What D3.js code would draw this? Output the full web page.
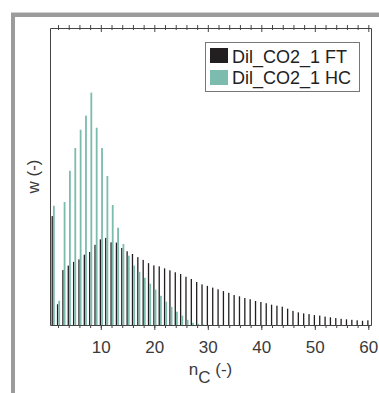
<!DOCTYPE html>
<html>
<head>
<meta charset="utf-8">
<script src="https://cdn.jsdelivr.net/npm/d3@7"></script>
<style>
  body { margin: 0; background: #fff; }
  svg { display: block; font-family: "Liberation Sans", Arial, sans-serif; }
  .axis path, .axis line { stroke: #444; }
  .axis text { fill: #3a3a3a; font-size: 17px; }
</style>
</head>
<body>
<svg width="379" height="393"></svg>
<script>
// carbon numbers
const nC = d3.range(1, 61);

// weight fractions, FT product
const ftValues = [
  0.0440, 0.0084, 0.0222, 0.0240, 0.0255, 0.0265, 0.0284, 0.0295, 0.0324, 0.0346,
  0.0352, 0.0334, 0.0333, 0.0311, 0.0298, 0.0287, 0.0274, 0.0263, 0.0250, 0.0241,
  0.0237, 0.0229, 0.0221, 0.0213, 0.0206, 0.0195, 0.0186, 0.0174, 0.0164, 0.0158,
  0.0151, 0.0144, 0.0137, 0.0130, 0.0121, 0.0116, 0.0109, 0.0104, 0.0097, 0.0093,
  0.0088, 0.0082, 0.0078, 0.0074, 0.0066, 0.0057, 0.0051, 0.0047, 0.0044, 0.0040,
  0.0038, 0.0034, 0.0031, 0.0028, 0.0025, 0.0023, 0.0021, 0.0019, 0.0017, 0.0019
];

// weight fractions, HC product
const hcValues = [
  0.0482, 0.0098, 0.0497, 0.0623, 0.0715, 0.0789, 0.0846, 0.0939, 0.0797, 0.0715,
  0.0602, 0.0485, 0.0393, 0.0327, 0.0280, 0.0240, 0.0215, 0.0191, 0.0167, 0.0143,
  0.0118, 0.0094, 0.0073, 0.0054, 0.0038, 0.0021, 0.0009, 0.0005, 0.0002, 0,
  0, 0, 0, 0, 0, 0, 0, 0, 0, 0,
  0, 0, 0, 0, 0, 0, 0, 0, 0, 0,
  0, 0, 0, 0, 0, 0, 0, 0, 0, 0
];

const seriesNames = ['Dil_CO2_1 FT', 'Dil_CO2_1 HC'];
const seriesColors = ['#231f20', '#7bbcae'];
const majorTicks = [10, 20, 30, 40, 50, 60];
const minorTicks = d3.range(2, 61, 2);

const svg = d3.select('svg');
const margin = { top: 28, right: 8, bottom: 68, left: 50 };
const width = 379 - margin.left - margin.right;
const height = 393 - margin.top - margin.bottom;

// grey frame of the figure window
svg.append('rect').attr('x', 11).attr('y', 12).attr('width', 379).attr('height', 1)
  .attr('fill', '#d0d0d0');
svg.append('rect').attr('x', 11).attr('y', 13).attr('width', 379).attr('height', 4)
  .attr('fill', '#9b9b9b');
svg.append('rect').attr('x', 11).attr('y', 13).attr('width', 4).attr('height', 393)
  .attr('fill', '#9b9b9b');

const x = d3.scaleLinear().domain([0.5, 60.5]).range([margin.left, margin.left + width]);
const y = d3.scaleLinear().domain([0, 0.12]).range([margin.top + height, margin.top]);

// bars, FT left of the carbon number, HC right of it
const bars = svg.append('g');
bars.selectAll('.ft')
  .data(nC)
  .enter().append('rect')
  .attr('class', 'ft')
  .attr('x', (d) => x(d) - 1.1)
  .attr('width', 1.3)
  .attr('y', (d, i) => y(ftValues[i]))
  .attr('height', (d, i) => y(0) - y(ftValues[i]))
  .attr('fill', seriesColors[0]);
bars.selectAll('.hc')
  .data(nC)
  .enter().append('rect')
  .attr('class', 'hc')
  .attr('x', (d) => x(d) + 0.3)
  .attr('width', 1.8)
  .attr('y', (d, i) => y(hcValues[i]))
  .attr('height', (d, i) => y(0) - y(hcValues[i]))
  .attr('fill', seriesColors[1]);

// bottom axis: minor ticks every 2, labelled major ticks every 10
svg.append('g')
  .attr('class', 'axis')
  .attr('transform', 'translate(0,' + (margin.top + height) + ')')
  .call(d3.axisBottom(x).tickValues(minorTicks).tickSize(3).tickSizeOuter(0).tickFormat(''));
svg.append('g')
  .attr('class', 'axis')
  .attr('transform', 'translate(0,' + (margin.top + height) + ')')
  .call(d3.axisBottom(x).tickValues(majorTicks).tickSize(5).tickSizeOuter(0).tickPadding(11))
  .call((g) => g.select('.domain').remove());

// top axis, ticks cross the line
const topAxis = svg.append('g')
  .attr('class', 'axis')
  .attr('transform', 'translate(0,' + margin.top + ')')
  .call(d3.axisTop(x).tickValues(minorTicks).tickSizeOuter(0).tickFormat(''));
topAxis.selectAll('.tick line')
  .attr('y1', (d) => (d % 10 === 0 ? 4 : 2))
  .attr('y2', -3);

// left and right axis lines
svg.append('g')
  .attr('class', 'axis')
  .attr('transform', 'translate(' + margin.left + ',0)')
  .call(d3.axisLeft(y).tickValues([]).tickSizeOuter(0));
svg.append('g')
  .attr('class', 'axis')
  .attr('transform', 'translate(' + (margin.left + width) + ',0)')
  .call(d3.axisRight(y).tickValues([]).tickSizeOuter(0));

// axis labels
const xLabel = svg.append('text')
  .attr('x', margin.left + width / 2)
  .attr('y', 375)
  .attr('text-anchor', 'middle')
  .attr('fill', '#3a3a3a')
  .style('font-size', '17px');
xLabel.append('tspan').text('n');
xLabel.append('tspan').attr('dy', 8).text('C');
xLabel.append('tspan').attr('dy', -8).text(' (-)');

svg.append('text')
  .attr('transform', 'translate(39,' + (margin.top + height / 2) + ') rotate(-90)')
  .attr('text-anchor', 'middle')
  .attr('fill', '#3a3a3a')
  .style('font-size', '17px')
  .text('w (-)');

// legend
const legend = svg.append('g');
legend.append('rect')
  .attr('x', 205.5).attr('y', 42.5).attr('width', 154).attr('height', 49)
  .attr('fill', '#fff').attr('stroke', '#777');
seriesNames.forEach((name, i) => {
  legend.append('rect')
    .attr('x', 210).attr('y', 48 + i * 22).attr('width', 18).attr('height', 15)
    .attr('fill', seriesColors[i]);
  legend.append('text')
    .attr('x', 232).attr('y', 63 + i * 21)
    .attr('fill', '#222')
    .style('font-size', '18px')
    .text(name);
});
</script>
</body>
</html>
